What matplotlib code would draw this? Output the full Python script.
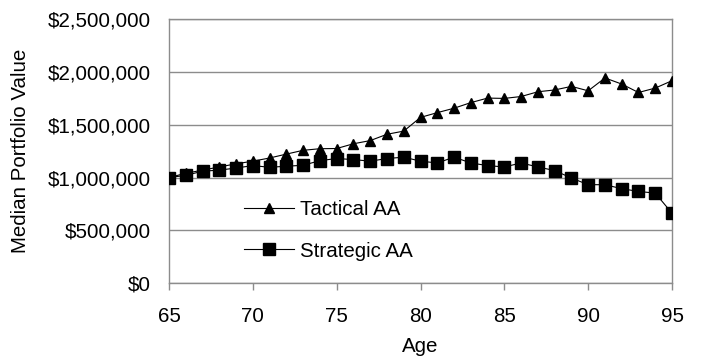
import numpy as np
import matplotlib.pyplot as plt
from matplotlib.patches import Rectangle
from matplotlib.ticker import FuncFormatter

plt.rcParams['font.family'] = ['Liberation Sans', 'DejaVu Sans']

ages = list(range(65, 96))

# median portfolio value by age
tactical = [1000000, 1040000, 1070000, 1100000, 1130000, 1155000, 1185000,
            1222000, 1258000, 1273000, 1275000, 1320000, 1350000, 1410000,
            1440000, 1570000, 1615000, 1657000, 1710000, 1753000, 1750000,
            1768000, 1813000, 1830000, 1864000, 1822000, 1944000, 1886000,
            1806000, 1848000, 1918000]
strategic = [1000000, 1020000, 1060000, 1070000, 1090000, 1113000, 1097000,
             1107000, 1116000, 1160000, 1180000, 1170000, 1155000, 1180000,
             1193000, 1155000, 1138000, 1193000, 1138000, 1113000, 1100000,
             1138000, 1100000, 1066000, 995000, 932000, 932000, 894000,
             868000, 852000, 661000]

fs = 14.8
grey = '#8c8c8c'

fig = plt.figure(figsize=(7.08, 3.6), dpi=100)
ax = fig.add_axes([0.2387, 0.2139, 0.7105, 0.7325])

ax.plot(ages, tactical, color='black', lw=0.8, marker='^', markersize=6.5,
        label='Tactical AA', zorder=3)
ax.plot(ages, strategic, color='black', lw=0.8, marker='s', markersize=8.5,
        label='Strategic AA', zorder=3)

ax.set_xlim(65, 95)
ax.set_ylim(0, 2500000)
ax.set_xticks(range(65, 96, 5))
ax.set_yticks(np.arange(0, 2500001, 500000))
ax.yaxis.set_major_formatter(FuncFormatter(lambda v, p: f'${v:,.0f}'))

ax.grid(axis='y', color=grey, lw=1.0, zorder=0)
for s in ax.spines.values():
    s.set_color(grey)
    s.set_linewidth(1.0)

ax.tick_params(axis='x', length=5, width=1, color=grey, pad=12, labelsize=fs)
ax.tick_params(axis='y', length=0, pad=13, labelsize=fs)

ax.set_xlabel('Age', fontsize=fs, labelpad=8)
ax.set_ylabel('Median Portfolio Value', fontsize=fs, labelpad=13)

# white patch behind the legend hides the gridline there
ax.add_patch(Rectangle((0.0736, 0.14), 0.486, 0.11, transform=ax.transAxes,
                       facecolor='white', edgecolor='none', zorder=1))

leg = ax.legend(loc='center left', bbox_to_anchor=(0.15, 0.2),
                borderaxespad=0, fontsize=fs, frameon=False,
                handlelength=2.4, handletextpad=0.3, labelspacing=1.1,
                borderpad=0)

fig.savefig('out.png', dpi=100)
